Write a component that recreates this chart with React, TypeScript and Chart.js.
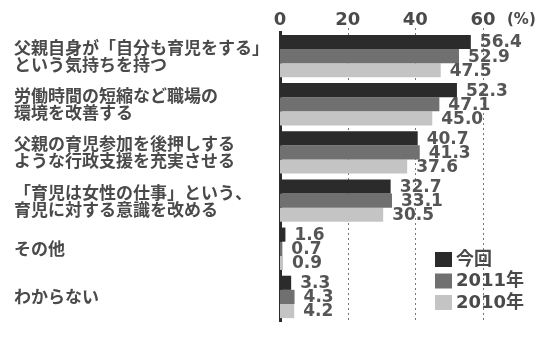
import React, { useEffect, useRef } from "react";
import { Chart, registerables } from "chart.js";

Chart.register(...registerables);

const categories: string[][] = [
  ["父親自身が「自分も育児をする」", "という気持ちを持つ"],
  ["労働時間の短縮など職場の", "環境を改善する"],
  ["父親の育児参加を後押しする", "ような行政支援を充実させる"],
  ["「育児は女性の仕事」という、", "育児に対する意識を改める"],
  ["その他"],
  ["わからない"],
];

const seriesNames = ["今回", "2011年", "2010年"];
const current = [56.4, 52.3, 40.7, 32.7, 1.6, 3.3];
const y2011 = [52.9, 47.1, 41.3, 33.1, 0.7, 4.3];
const y2010 = [47.5, 45.0, 37.6, 30.5, 0.9, 4.2];
const xStep = 20;
const xMax = 60;
const unitLabel = "(%)";

const colors = ["#2b2b2b", "#707070", "#c4c4c4"];
const TEXT = "#4a4a4a";
const NUM_FONT = '"DejaVu Sans", "Noto Sans CJK JP", sans-serif';
const JP_FONT = '"Noto Sans CJK JP", "DejaVu Sans", sans-serif';

const overlay = {
  id: "overlay",
  beforeDatasetsDraw(chart: any) {
    const ctx = chart.ctx;
    const xs = chart.scales.x;
    const area = chart.chartArea;
    ctx.save();
    ctx.strokeStyle = "#777";
    ctx.lineWidth = 1;
    ctx.setLineDash([2, 3]);
    xs.ticks.forEach((t: any) => {
      if (t.value === 0) return;
      const px = Math.round(xs.getPixelForValue(t.value)) + 0.5;
      ctx.beginPath();
      ctx.moveTo(px, area.top - 4);
      ctx.lineTo(px, area.bottom);
      ctx.stroke();
    });
    ctx.restore();
  },
  afterDatasetsDraw(chart: any) {
    const ctx = chart.ctx;
    ctx.save();
    ctx.font = `bold 17px ${NUM_FONT}`;
    ctx.fillStyle = "#555";
    ctx.textAlign = "left";
    ctx.textBaseline = "middle";
    chart.data.datasets.forEach((ds: any, di: number) => {
      const meta = chart.getDatasetMeta(di);
      meta.data.forEach((el: any, i: number) => {
        const v = ds.data[i] as number;
        ctx.fillText(v.toFixed(1), el.x + 9, el.y + 1);
      });
    });
    ctx.restore();
  },
  afterDraw(chart: any) {
    const ctx = chart.ctx;
    const xs = chart.scales.x;
    ctx.save();
    ctx.font = `bold 15px ${NUM_FONT}`;
    ctx.fillStyle = TEXT;
    ctx.textAlign = "left";
    ctx.textBaseline = "middle";
    ctx.fillText(unitLabel, xs.right + 24, 20);
    const lx = 435;
    const ly = 252;
    const rowH = 21.5;
    ctx.font = `bold 18px ${NUM_FONT}`;
    chart.data.datasets.forEach((ds: any, i: number) => {
      const top = ly + i * rowH;
      ctx.fillStyle = ds.backgroundColor;
      ctx.fillRect(lx, top, 17, 15);
      ctx.fillStyle = TEXT;
      ctx.fillText(ds.label, lx + 21, top + 8);
    });
    ctx.restore();
  },
};

export default function App() {
  const ref = useRef<HTMLCanvasElement>(null);
  useEffect(() => {
    if (!ref.current) return;
    const chart = new Chart(ref.current, {
      type: "bar",
      data: {
        labels: categories,
        datasets: [current, y2011, y2010].map((d, i) => ({
          label: seriesNames[i],
          data: d,
          backgroundColor: colors[i],
          borderWidth: 0,
          categoryPercentage: 0.88,
          barPercentage: 1.0,
        })),
      },
      options: {
        indexAxis: "y",
        responsive: false,
        animation: false,
        maintainAspectRatio: false,
        layout: { padding: { left: 14, right: 55, top: 0, bottom: 0 } },
        plugins: {
          legend: { display: false },
          tooltip: { enabled: false },
        },
        scales: {
          x: {
            type: "linear",
            position: "top",
            min: 0,
            max: xMax,
            afterFit: (scale: any) => {
              scale.height = 32;
            },
            grid: { display: false, drawTicks: false },
            border: { display: false },
            ticks: {
              stepSize: xStep,
              padding: 3,
              color: TEXT,
              font: { family: NUM_FONT, size: 18, weight: "bold", lineHeight: 1.0 },
            },
          },
          y: {
            grid: { display: false },
            border: { display: true, color: "#2a2a2a", width: 3 },
            afterFit: (scale: any) => {
              scale.width = 266;
            },
            ticks: {
              crossAlign: "far",
              padding: 0,
              color: TEXT,
              font: { family: JP_FONT, size: 17, weight: "bold", lineHeight: 1.0 },
            },
          },
        },
      },
      plugins: [overlay],
    } as any);
    return () => chart.destroy();
  }, []);
  return (
    <div style={{ position: "fixed", left: 0, top: 0, width: 538, height: 338, background: "#fff" }}>
      <canvas ref={ref} width={538} height={338} style={{ display: "block" }} />
    </div>
  );
}
